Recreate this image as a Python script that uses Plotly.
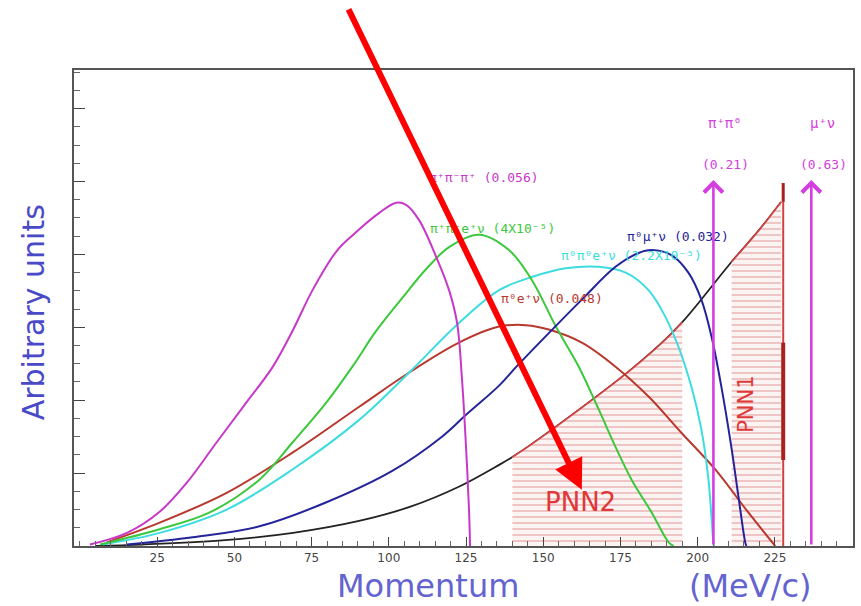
import numpy as np
import plotly.graph_objects as go

# ---------------- data ----------------
# K+ -> pi+ pi- pi+  (0.056)
x_3pi = [3.2, 15.2, 25.8, 34.6, 44.2, 53.9, 62.3, 68.8, 75.3, 83.0, 88.2, 96.9, 102.4, 105.6, 109.8, 115.3, 119.5, 122.1, 123.7, 125.0, 126.0, 126.3]
y_3pi = [0.02, 0.18, 0.47, 0.87, 1.42, 1.97, 2.45, 2.95, 3.51, 4.04, 4.26, 4.57, 4.71, 4.68, 4.47, 3.97, 3.51, 3.06, 2.28, 1.36, 0.46, 0.0]

# K+ -> pi+ pi- e+ nu (4x10^-5)
x_ke4 = [6.5, 25.8, 42.0, 58.1, 68.8, 79.8, 88.2, 95.9, 104.3, 112.1, 119.5, 129.2, 138.9, 146.3, 154.1, 161.5, 168.0, 173.4, 178.6, 185.1, 190.6, 192.2]
y_ke4 = [0.02, 0.23, 0.46, 0.91, 1.42, 1.97, 2.46, 2.95, 3.40, 3.80, 4.10, 4.27, 4.06, 3.65, 3.01, 2.46, 1.87, 1.36, 0.91, 0.46, 0.05, 0.0]

# K+ -> pi0 pi0 e+ nu
x_ke4n = [7.4, 25.8, 47.5, 68.8, 90.4, 106.6, 122.7, 135.7, 146.3, 157.3, 167.9, 176.7, 184.1, 189.6, 193.8, 198.0, 201.2, 203.5, 205.1, 205.3]
y_ke4n = [0.02, 0.18, 0.50, 1.05, 1.73, 2.38, 3.06, 3.51, 3.69, 3.81, 3.83, 3.75, 3.51, 3.14, 2.73, 2.18, 1.60, 0.91, 0.05, 0.0]

# K+ -> pi0 e+ nu (0.048)
x_ke3 = [8.7, 25.8, 47.5, 68.8, 90.4, 106.6, 122.7, 135.7, 144.4, 151.8, 162.5, 173.4, 184.1, 194.8, 205.7, 216.4, 225.1]
y_ke3 = [0.05, 0.32, 0.73, 1.28, 1.91, 2.38, 2.79, 3.01, 3.03, 2.97, 2.79, 2.46, 2.05, 1.55, 1.05, 0.46, 0.0]

# K+ -> pi0 mu+ nu (0.032)
x_km3 = [15.2, 36.5, 58.1, 79.8, 101.1, 117.2, 125.0, 135.7, 141.1, 151.8, 162.5, 173.4, 180.9, 185.1, 191.5, 197.0, 201.2, 204.5, 207.7, 210.9, 213.2, 215.4, 215.8]
y_km3 = [0.02, 0.12, 0.27, 0.60, 1.03, 1.50, 1.80, 2.20, 2.45, 2.92, 3.38, 3.83, 4.02, 4.06, 3.99, 3.75, 3.38, 2.87, 2.18, 1.36, 0.68, 0.05, 0.0]

# K+ -> pi+ nu nubar (signal)
x_sig = [5, 20, 47, 69, 90, 107, 123, 136, 140, 146, 166, 179, 190, 195, 200, 211, 220, 227]
y_sig = [0.0, 0.02, 0.08, 0.18, 0.34, 0.54, 0.82, 1.12, 1.22, 1.39, 2.01, 2.44, 2.85, 3.07, 3.32, 3.90, 4.34, 4.72]
sig_end = 227.7
sig_end_top = 4.98
sig_dark = [1.18, 2.79]

# signal regions
pnn2 = [140, 195]
pnn1 = [211, 227]

# two-body peaks
peak_names = ["π⁺π⁰", "μ⁺ν"]
peak_br = ["(0.21)", "(0.63)"]
peak_x = [205.1, 236.8]
peak_h = 5.02

xticks = [25, 50, 75, 100, 125, 150, 175, 200, 225]

# ---------------- colours ----------------
C_MAG = "#c838c8"
C_GRN = "#3cc83c"
C_CYA = "#3cdce0"
C_RED = "#b8382e"
C_BLU = "#24249a"
C_BLK = "#222222"
C_ARW = "#d43ee0"
C_HATCH = "#d84040"

fig = go.Figure()

# signal (black)
fig.add_trace(go.Scatter(x=x_sig, y=y_sig, mode="lines", line_shape="spline",
                         line=dict(color=C_BLK, width=1.8)))

# hatched regions under signal
xs = np.array(x_sig); ys = np.array(y_sig)
for lo, hi in (pnn2, pnn1):
    m = (xs >= lo) & (xs <= hi)
    fig.add_trace(go.Scatter(
        x=xs[m], y=ys[m], mode="lines", fill="tozeroy", line_shape="spline",
        line=dict(color=C_HATCH, width=1.6),
        fillcolor="rgba(250,228,228,0.6)",
        fillpattern=dict(shape="-", fgcolor="rgba(205,70,70,0.6)",
                         bgcolor="rgba(252,238,238,0.7)", size=6, solidity=0.3)))

# end-point vertical of the signal
fig.add_trace(go.Scatter(x=[sig_end, sig_end], y=[0, y_sig[-1]], mode="lines",
                         line=dict(color=C_HATCH, width=2)))
fig.add_trace(go.Scatter(x=[sig_end, sig_end], y=sig_dark, mode="lines",
                         line=dict(color="#a82020", width=4)))
fig.add_trace(go.Scatter(x=[sig_end, sig_end], y=[y_sig[-1], sig_end_top], mode="lines",
                         line=dict(color="#a82020", width=3)))

curves = [
    (x_ke3, y_ke3, C_RED),
    (x_ke4n, y_ke4n, C_CYA),
    (x_ke4, y_ke4, C_GRN),
    (x_km3, y_km3, C_BLU),
    (x_3pi, y_3pi, C_MAG),
]
for cx, cy, col in curves:
    fig.add_trace(go.Scatter(x=cx, y=cy, mode="lines", line=dict(color=col, width=2),
                             line_shape="spline"))

annotations = []
LF = "DejaVu Sans Mono"
labels = [
    ("π⁺π⁻π⁺ (0.056)", 130.8, 5.06, C_MAG),
    ("π⁺π⁻e⁺ν (4X10⁻⁵)", 133.7, 4.36, C_GRN),
    ("π⁰μ⁺ν (0.032)", 193.5, 4.25, C_BLU),
    ("π⁰π⁰e⁺ν (2.2X10⁻⁵)", 178.6, 3.99, C_CYA),
    ("π⁰e⁺ν (0.048)", 152.8, 3.40, C_RED),
]
for t, lx, ly, col in labels:
    annotations.append(dict(x=lx, y=ly, text=t, showarrow=False,
                            font=dict(family=LF, size=13, color=col)))

# two-body arrows and labels
for nm, br, px in zip(peak_names, peak_br, peak_x):
    annotations.append(dict(x=px, y=peak_h, ax=px, ay=0, axref="x", ayref="y",
                            xref="x", yref="y", text="", showarrow=True,
                            arrowhead=4, arrowsize=1.4, arrowwidth=2.6,
                            arrowcolor=C_ARW, standoff=0, startstandoff=0))
    annotations.append(dict(x=px + 3.6, y=5.80, text=nm, showarrow=False,
                            font=dict(family=LF, size=14, color=C_ARW)))
    annotations.append(dict(x=px + 4.0, y=5.23, text=br, showarrow=False,
                            font=dict(family=LF, size=13, color=C_ARW)))

# region labels
annotations.append(dict(x=162.1, y=0.61, text="PNN2", showarrow=False,
                        font=dict(family="DejaVu Sans", size=26, color="#e03838")))
annotations.append(dict(x=215.4, y=1.94, text="PNN1", showarrow=False, textangle=-90,
                        font=dict(family="DejaVu Sans", size=21, color="#e03838")))

# big red arrow
annotations.append(dict(x=162.5, y=0.77, ax=-234, ay=-482, text="", showarrow=True,
                        arrowhead=2, arrowsize=1.0, arrowwidth=6, arrowcolor="#ff0000",
                        standoff=0))

# axis titles
annotations.append(dict(xref="paper", yref="paper", x=-0.077, y=0.49,
                        text="Arbitrary units", textangle=-90, showarrow=False,
                        font=dict(family="DejaVu Sans", size=30, color="#4a4ac8")))
for t, tx in (("Momentum", 0.455), ("(MeV/c)", 0.868)):
    annotations.append(dict(xref="paper", yref="paper", x=tx, y=-0.125,
                            xanchor="center", yanchor="bottom", borderpad=0,
                            text=t, showarrow=False,
                            font=dict(family="DejaVu Sans", size=32, color="#6464d0")))

fig.update_layout(
    width=861, height=606,
    margin=dict(l=74, r=6, t=70, b=60),
    paper_bgcolor="white", plot_bgcolor="white",
    showlegend=False,
    annotations=annotations,
    xaxis=dict(range=[-1.94, 250.3], tickvals=xticks, ticktext=[str(v) for v in xticks],
               ticks="inside", ticklen=9, tickwidth=1.2, tickcolor="#444",
               minor=dict(dtick=5, tick0=0, ticks="inside", ticklen=5, tickcolor="#666"),
               showgrid=False, zeroline=False, showline=True, linecolor="#555", linewidth=2,
               mirror=True, tickfont=dict(family="DejaVu Sans", size=12, color="#444")),
    yaxis=dict(range=[0, 6.53], dtick=1, tick0=0, ticks="inside", ticklen=11, tickwidth=1.2,
               tickcolor="#444",
               minor=dict(dtick=0.25, tick0=0, ticks="inside", ticklen=6, tickcolor="#666"),
               showticklabels=False, showgrid=False, zeroline=False, showline=True,
               linecolor="#555", linewidth=2, mirror=True),
)

fig.write_html("out.html")
